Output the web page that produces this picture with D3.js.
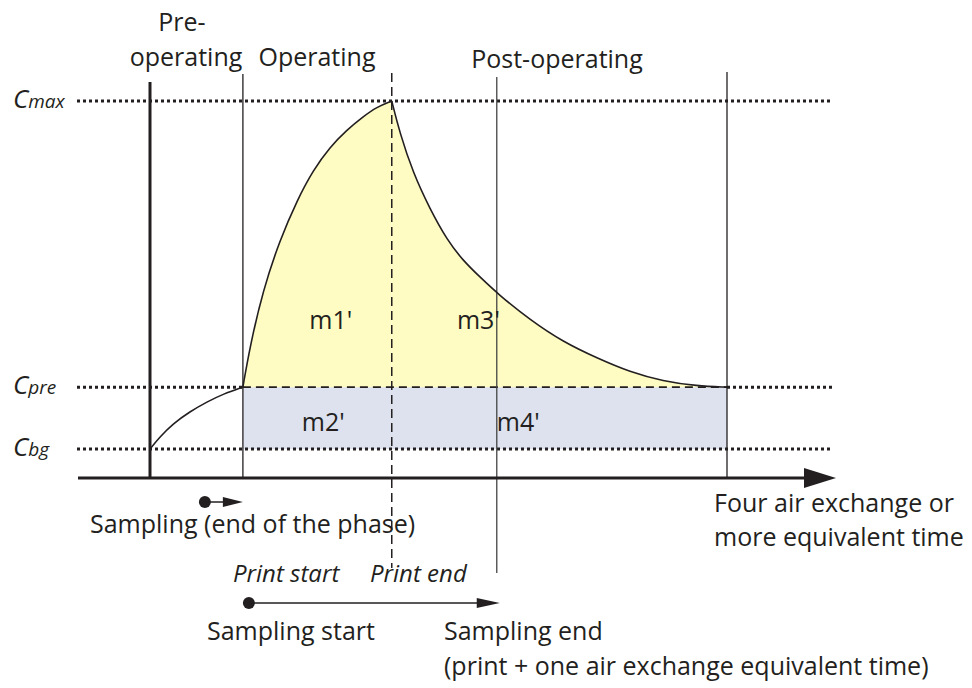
<!DOCTYPE html>
<html>
<head>
<meta charset="utf-8">
<script src="https://cdn.jsdelivr.net/npm/d3@7/dist/d3.min.js"></script>
<style>
  html, body { margin: 0; padding: 0; background: #fff; }
  svg { display: block; }
  text { font-family: "Open Sans", "Noto Sans", sans-serif; fill: #231f20; }
</style>
</head>
<body>
<svg id="chart" width="972" height="688"></svg>
<script>
// ---------------- data ----------------
// time in arbitrary units: 0 = start of pre-operating, 100 = four air exchanges
const phaseTimes   = [0, 16.1, 41.9, 60.1, 100];   // axis origin, print start, print end, sampling end, 4 ACH
const phaseLabels  = ["Pre-operating", "Operating", "Post-operating"];
const levelNames   = ["C", "C", "C"];
const levelSubs    = ["max", "pre", "bg"];
const levelValues  = [100, 24.1, 7.7];              // Cmax, Cpre, Cbg

const preT   = [0, 1.7, 4.0, 6.9, 9.9, 12.7, 16.1];
const preC   = [7.7, 10.9, 14.4, 17.6, 20.2, 22.3, 24.1];

const riseT  = [16.1, 17.3, 19.6, 22.5, 25.5, 28.3, 31.2, 34.1, 36.9, 39.3, 41.9];
const riseC  = [24.1, 34.7, 49.9, 63.1, 73.7, 81.7, 87.8, 92.3, 95.8, 98.4, 100];

const decayT = [41.9, 43.3, 45.6, 48.5, 51.5, 54.3, 57.2, 60.3, 65.9, 71.6, 77.5, 83.2, 88.9, 94.8, 100];
const decayC = [100, 91.5, 80.9, 71.4, 63.1, 57.6, 53.3, 48.8, 41.9, 36.1, 31.8, 28.1, 25.7, 24.4, 24.1];

const areaLabels = ["m1'", "m2'", "m3'", "m4'"];

// ---------------- scales ----------------
const svg = d3.select("#chart");
const x = d3.scaleLinear().domain([0, 100]).range([150, 727]);
const y = d3.scaleLinear().domain([0, 100]).range([478, 101]);

const ink = "#231f20";
const yellow = "#fefcc2";
const blue = "#dde2ee";
const FS = 25;
const curve = d3.curveBasis;

const [tAxis, tStart, tEnd, tSampEnd, tAch] = phaseTimes;
const [cMax, cPre, cBg] = levelValues;

const zip = (a, b) => a.map((v, i) => [v, b[i]]);

// ---------------- fills ----------------
svg.append("rect")
  .attr("x", x(tStart)).attr("y", y(cPre))
  .attr("width", x(tAch) - x(tStart)).attr("height", y(cBg) - y(cPre))
  .attr("fill", blue);

const area = d3.area()
  .x(d => x(d[0])).y0(y(cPre)).y1(d => y(d[1]))
  .curve(curve);
svg.append("path").datum(zip(riseT, riseC)).attr("d", area).attr("fill", yellow);
svg.append("path").datum(zip(decayT, decayC)).attr("d", area).attr("fill", yellow);

// ---------------- horizontal reference lines ----------------
const xLeft = x(tAxis) - 73, xRight = x(tAch) + 105;
levelValues.forEach((v, i) => {
  const dotted = (a, b) => svg.append("line").attr("x1", a).attr("x2", b)
      .attr("y1", y(v)).attr("y2", y(v))
      .attr("stroke", ink).attr("stroke-width", 3).attr("stroke-dasharray", "3,3");
  if (i === 1) {
    dotted(xLeft, x(tStart));
    dotted(x(tAch), xRight);
    svg.append("line").attr("x1", x(tStart)).attr("x2", x(tAch))
      .attr("y1", y(v)).attr("y2", y(v))
      .attr("stroke", ink).attr("stroke-width", 1.6).attr("stroke-dasharray", "8,5");
  } else {
    dotted(xLeft, xRight);
  }
});

// ---------------- vertical lines ----------------
svg.append("line").attr("x1", x(tAxis)).attr("x2", x(tAxis))
  .attr("y1", y(cMax) - 19).attr("y2", y(0))
  .attr("stroke", ink).attr("stroke-width", 3);
svg.append("line").attr("x1", x(tStart)).attr("x2", x(tStart))
  .attr("y1", y(cMax) - 27).attr("y2", y(0))
  .attr("stroke", ink).attr("stroke-width", 1.3);
svg.append("line").attr("x1", x(tEnd)).attr("x2", x(tEnd))
  .attr("y1", y(cMax) - 28).attr("y2", y(0) + 90)
  .attr("stroke", ink).attr("stroke-width", 1.5).attr("stroke-dasharray", "9,5");
svg.append("line").attr("x1", x(tSampEnd)).attr("x2", x(tSampEnd))
  .attr("y1", y(cMax) - 24).attr("y2", y(0) + 95)
  .attr("stroke", "#444").attr("stroke-width", 1.3);
svg.append("line").attr("x1", x(tAch)).attr("x2", x(tAch))
  .attr("y1", y(cMax) - 29).attr("y2", y(0))
  .attr("stroke", ink).attr("stroke-width", 1.3);

// ---------------- curves ----------------
const line = d3.line().x(d => x(d[0])).y(d => y(d[1])).curve(curve);
[zip(preT, preC), zip(riseT, riseC), zip(decayT, decayC)].forEach(pts => {
  svg.append("path").datum(pts).attr("d", line)
    .attr("fill", "none").attr("stroke", ink).attr("stroke-width", 1.6);
});

// ---------------- time axis ----------------
const axisY = y(0);
svg.append("line").attr("x1", x(tAxis) - 72).attr("x2", xRight - 20)
  .attr("y1", axisY).attr("y2", axisY)
  .attr("stroke", ink).attr("stroke-width", 3);
const tip = xRight + 4;
svg.append("path")
  .attr("d", `M${tip},${axisY} L${tip - 32},${axisY - 10} L${tip - 32},${axisY + 10} Z`)
  .attr("fill", ink);

// ---------------- level labels ----------------
levelValues.forEach((v, i) => {
  const t = svg.append("text").attr("x", 13).attr("y", y(v) + 7)
    .attr("font-style", "italic");
  t.append("tspan").attr("font-size", 26).text(levelNames[i]);
  t.append("tspan").attr("font-size", 19).text(levelSubs[i]);
});

// ---------------- phase labels ----------------
svg.append("text").attr("x", 182).attr("y", 31).attr("text-anchor", "middle")
  .attr("font-size", FS).text("Pre-");
svg.append("text").attr("x", 186).attr("y", 66).attr("text-anchor", "middle")
  .attr("font-size", FS).text("operating");
svg.append("text").attr("x", 317).attr("y", 66).attr("text-anchor", "middle")
  .attr("font-size", FS).text(phaseLabels[1]);
svg.append("text").attr("x", 557).attr("y", 68).attr("text-anchor", "middle")
  .attr("font-size", FS).text(phaseLabels[2]);

// ---------------- area labels ----------------
const labelPos = [[27.6, 39.5], [26.3, 12.5], [53.2, 39.5], [60.1, 12.5]];
areaLabels.forEach((s, i) => {
  svg.append("text")
    .attr("x", x(labelPos[i][0])).attr("y", y(labelPos[i][1]))
    .attr("font-size", FS).text(s);
});

// ---------------- sampling annotations ----------------
const smallY = axisY + 24;
svg.append("circle").attr("cx", x(tStart) - 38).attr("cy", smallY).attr("r", 6).attr("fill", ink);
svg.append("line").attr("x1", x(tStart) - 38).attr("x2", x(tStart) - 18)
  .attr("y1", smallY).attr("y2", smallY).attr("stroke", ink).attr("stroke-width", 1.5);
svg.append("path")
  .attr("d", `M${x(tStart)},${smallY} L${x(tStart) - 20},${smallY - 5} L${x(tStart) - 20},${smallY + 5} Z`)
  .attr("fill", ink);
svg.append("text").attr("x", 90).attr("y", 533).attr("font-size", FS)
  .text("Sampling (end of the phase)");

svg.append("text").attr("x", 233).attr("y", 582).attr("font-size", 24)
  .attr("font-style", "italic").text("Print start");
svg.append("text").attr("x", 370).attr("y", 582).attr("font-size", 24)
  .attr("font-style", "italic").text("Print end");

const bigY = 603;
svg.append("circle").attr("cx", x(tStart) + 6).attr("cy", bigY).attr("r", 6).attr("fill", ink);
svg.append("line").attr("x1", x(tStart) + 6).attr("x2", x(tSampEnd) - 18)
  .attr("y1", bigY).attr("y2", bigY).attr("stroke", ink).attr("stroke-width", 1.5);
svg.append("path")
  .attr("d", `M${x(tSampEnd) + 3},${bigY} L${x(tSampEnd) - 20},${bigY - 5} L${x(tSampEnd) - 20},${bigY + 5} Z`)
  .attr("fill", ink);

svg.append("text").attr("x", 207).attr("y", 640).attr("font-size", FS).text("Sampling start");
svg.append("text").attr("x", 444).attr("y", 640).attr("font-size", FS).text("Sampling end");
svg.append("text").attr("x", 444).attr("y", 675).attr("font-size", FS)
  .text("(print + one air exchange equivalent time)");

svg.append("text").attr("x", 714).attr("y", 512).attr("font-size", FS).text("Four air exchange or");
svg.append("text").attr("x", 714).attr("y", 546).attr("font-size", FS).text("more equivalent time");
</script>
</body>
</html>
